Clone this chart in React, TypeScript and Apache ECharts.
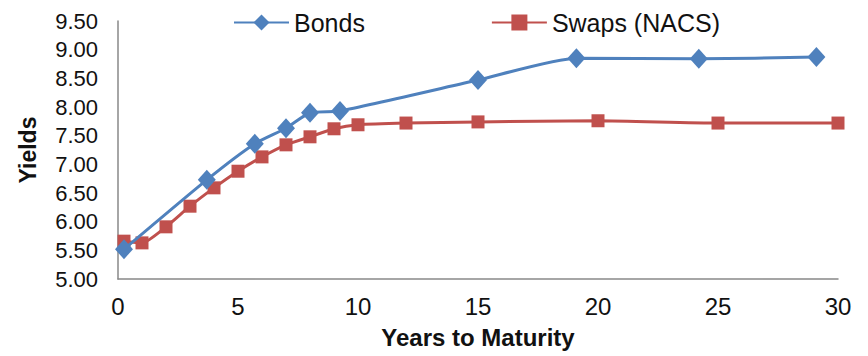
import React, { useEffect, useRef } from "react";
import * as echarts from "echarts";

const bondYears = [0.25, 3.7, 5.7, 7.0, 8.0, 9.25, 15, 19.1, 24.2, 29.1];
const bondYields = [5.52, 6.73, 7.36, 7.63, 7.9, 7.93, 8.47, 8.85, 8.84, 8.87];
const swapYears = [0.25, 1, 2, 3, 4, 5, 6, 7, 8, 9, 10, 12, 15, 20, 25, 30];
const swapYields = [5.66, 5.63, 5.91, 6.27, 6.59, 6.88, 7.13, 7.34, 7.48, 7.62, 7.69, 7.72, 7.74, 7.76, 7.72, 7.72];
const seriesNames = ["Bonds", "Swaps (NACS)"];
const xTitle = "Years to Maturity";
const yTitle = "Yields";

const FONT = "'Liberation Sans', Arial, sans-serif";

export default function App() {
  const ref = useRef<HTMLDivElement>(null);
  useEffect(() => {
    if (!ref.current) return;
    const chart = echarts.init(ref.current, null, { renderer: "svg" });
    chart.setOption({
      animation: false,
      backgroundColor: "#ffffff",
      textStyle: { fontFamily: FONT },
      grid: { left: 118, right: 30, top: 21, bottom: 77, containLabel: false },
      legend: {
        data: seriesNames,
        left: 228,
        top: 5,
        itemWidth: 55,
        itemHeight: 20,
        itemGap: 126,
        textStyle: { fontSize: 25, color: "#111", fontFamily: FONT },
      },
      xAxis: {
        type: "value",
        min: 0,
        max: 30,
        interval: 5,
        name: xTitle,
        nameLocation: "middle",
        nameGap: 46,
        nameTextStyle: { fontSize: 24, fontWeight: "bold", color: "#111", fontFamily: FONT },
        axisLine: { show: true, onZero: false, lineStyle: { color: "#888", width: 1.5 } },
        axisTick: { show: false },
        splitLine: { show: false },
        axisLabel: { fontSize: 24, color: "#111", margin: 15, fontFamily: FONT },
      },
      yAxis: {
        type: "value",
        min: 5,
        max: 9.5,
        interval: 0.5,
        name: yTitle,
        nameLocation: "middle",
        nameGap: 79,
        nameRotate: 90,
        nameTextStyle: { fontSize: 23, fontWeight: "bold", color: "#111", fontFamily: FONT },
        axisLine: { show: true, lineStyle: { color: "#888", width: 1.5 } },
        axisTick: { show: false },
        splitLine: { show: false },
        axisLabel: {
          fontSize: 22,
          color: "#111",
          margin: 20,
          fontFamily: FONT,
          formatter: (v: number) => v.toFixed(2),
        },
      },
      series: [
        {
          name: seriesNames[0],
          type: "line",
          data: bondYears.map((x, i) => [x, bondYields[i]]),
          smooth: 0.2,
          symbol: "diamond",
          symbolSize: [18, 20],
          lineStyle: { color: "#4F81BD", width: 3 },
          itemStyle: { color: "#4F81BD" },
          z: 3,
        },
        {
          name: seriesNames[1],
          type: "line",
          data: swapYears.map((x, i) => [x, swapYields[i]]),
          smooth: 0.2,
          symbol: "rect",
          symbolSize: 13,
          lineStyle: { color: "#C0504D", width: 3 },
          itemStyle: { color: "#C0504D" },
          z: 2,
        },
      ],
    });
    return () => chart.dispose();
  }, []);
  return <div ref={ref} style={{ width: 868, height: 356, position: "absolute", left: 0, top: 0 }} />;
}
